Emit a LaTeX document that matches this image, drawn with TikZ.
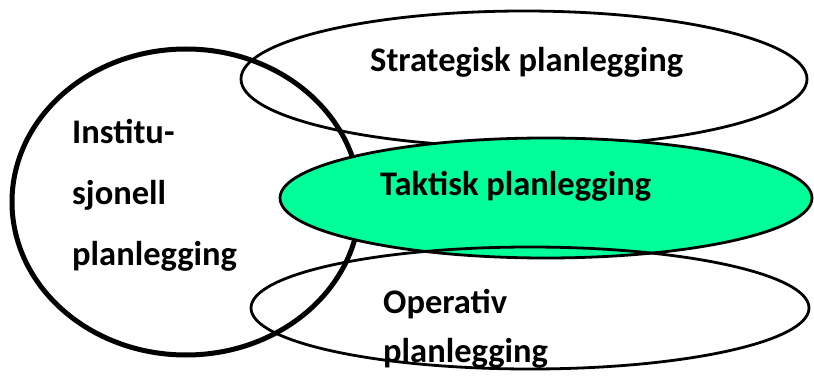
\documentclass[tikz,border=0pt]{standalone}
\usepackage{fontspec}
\setmainfont{Carlito}
\usepackage{tikz}
\definecolor{taktgreen}{RGB}{0,255,153}

\tikzset{
  plan/.style={draw=black, line width=2.8pt},
  inst/.style={draw=black, line width=5pt},
  lbl/.style={font=\bfseries\fontsize{34.5}{61}\selectfont, inner sep=0pt, anchor=base west, align=left}
}

\begin{document}
\begin{tikzpicture}[x=1pt,y=-1pt]
  \useasboundingbox (0,0) rectangle (814,377);

  \draw[plan] (524,79) ellipse [x radius=283, y radius=68];
  \draw[inst] (186,202) ellipse [x radius=174, y radius=153];
  \draw[plan, fill=taktgreen] (546,198) ellipse [x radius=266, y radius=60];
  \draw[plan] (530,308) ellipse [x radius=279, y radius=61];

  \node[lbl] (strat) at (370,72) {Strategisk planlegging};
  \node[lbl] (takt) at (380,195) {Taktisk planlegging};
  \node[lbl] (inst) at (72,265) {Institu-\\sjonell\\planlegging};
  \node[lbl, font=\bfseries\fontsize{34.5}{49}\selectfont] (oper) at (383,362) {Operativ\\planlegging};
\end{tikzpicture}
\end{document}
